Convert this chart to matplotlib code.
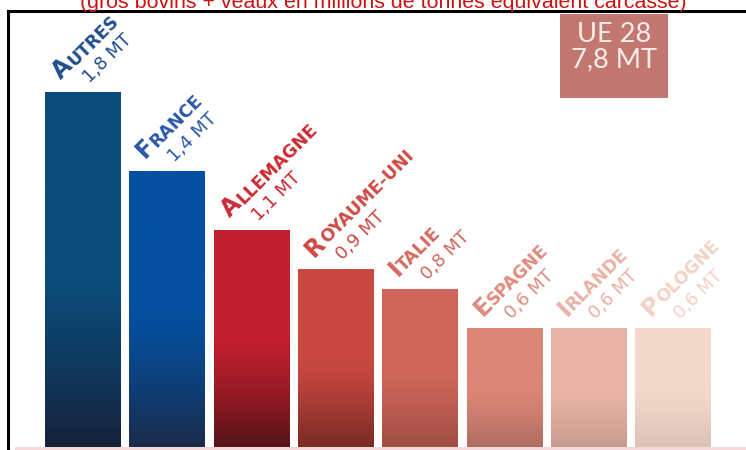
import numpy as np
import matplotlib
matplotlib.use('Agg')
import matplotlib.pyplot as plt
from matplotlib.colors import to_rgb
from matplotlib.lines import Line2D
from matplotlib.patches import Rectangle
from matplotlib.textpath import TextPath
from matplotlib.font_manager import FontProperties

# production de viande bovine, UE 28
pays = ['AUTRES', 'FRANCE', 'ALLEMAGNE', 'ROYAUME-UNI', 'ITALIE', 'ESPAGNE', 'IRLANDE', 'POLOGNE']
valeurs = [1.8, 1.4, 1.1, 0.9, 0.8, 0.6, 0.6, 0.6]

couleurs = ['#0b4d7b', '#0450a1', '#c11f2e', '#c94840', '#d0665a', '#dc8676', '#e8b4a5', '#f3d8cb']
couleurs_bas = ['#16203a', '#1a2b4a', '#551318', '#7a2a25', '#a04e44', '#b06c62', '#c89a8e', '#dcc2b7']
couleurs_txt = ['#1f4e8c', '#2a58a8', '#cc2a33', '#cf4a44', '#d4685d', '#df8b7e', '#e9b2a5', '#f1d2c7']

sous_titre = "(gros bovins + veaux en millions de tonnes équivalent carcasse)"

W, H = 746, 450
fig = plt.figure(figsize=(W / 100, H / 100), dpi=100)
fig.patch.set_facecolor('white')

ax = fig.add_axes([8 / W, 3 / H, 738 / W, 435 / H])
ax.set_axis_off()

x = np.arange(len(pays))
barres = ax.bar(x, valeurs, width=0.89, color=couleurs, linewidth=0, zorder=2)

# degrade vers le bas de chaque barre
n = 200
f = np.linspace(0, 1, n)
t = np.clip((0.5 - f) / 0.5, 0, 1) ** 1.3
for b, c1, c2 in zip(barres, couleurs, couleurs_bas):
    c1 = np.array(to_rgb(c1))
    c2 = np.array(to_rgb(c2))
    img = c1[None, :] * (1 - t[:, None]) + c2[None, :] * t[:, None]
    x0, y0 = b.get_x(), b.get_y()
    ax.imshow(img[:, None, :], extent=[x0, x0 + b.get_width(), y0, y0 + b.get_height()],
              origin='lower', aspect='auto', zorder=3, interpolation='bilinear')

ax.set_xlim(-0.884, -0.884 + 738 / 84.3)
ax.set_ylim(0, 435 / 197)

# etiquettes inclinees : premiere lettre plus grande, puis valeur
fs_grand, fs_petit, fs_val = 17, 12.5, 13
fp_grand = FontProperties(family='DejaVu Sans', weight='bold', size=fs_grand)
px = 0.72
c45 = np.cos(np.radians(45))
for b, nom, v, col in zip(barres, pays, valeurs, couleurs_txt):
    xy = (b.get_x(), b.get_height())
    nx, ny = 16 * px, 12 * px
    ax.annotate(nom[0], xy=xy, xytext=(nx, ny), textcoords='offset points',
                rotation=45, rotation_mode='anchor', ha='left', va='baseline',
                fontsize=fs_grand, fontweight='bold', color=col, family='DejaVu Sans',
                annotation_clip=False, zorder=5)
    w = TextPath((0, 0), nom[0], prop=fp_grand).get_extents().x1 + 0.8
    ax.annotate(nom[1:], xy=xy, xytext=(nx + w * c45, ny + w * c45), textcoords='offset points',
                rotation=45, rotation_mode='anchor', ha='left', va='baseline',
                fontsize=fs_petit, fontweight='bold', color=col, family='DejaVu Sans',
                annotation_clip=False, zorder=5)
    txt = f"{v:.1f}".replace('.', ',') + " MT"
    ax.annotate(txt, xy=xy, xytext=(45 * px, 9 * px), textcoords='offset points',
                rotation=45, rotation_mode='anchor', ha='left', va='baseline',
                fontsize=fs_val, color=col, family='DejaVu Sans',
                annotation_clip=False, zorder=5)

# cadre
fig.add_artist(Line2D([8 / W, 1], [1 - 11 / H] * 2, lw=2.2, color='black'))
fig.add_artist(Line2D([8 / W] * 2, [0, 1 - 11 / H], lw=2.2, color='black'))
fig.add_artist(Rectangle((15 / W, 0), 1, 3.5 / H, color='#f3d9d9', lw=0, zorder=1))

# total UE
total = sum(valeurs)
fig.add_artist(Rectangle((560 / W, 1 - 98 / H), 108 / W, 84 / H, color='#c27871', lw=0))
fig.text(614 / W, 1 - 35 / H, "UE 28", ha='center', va='center', fontsize=19.5,
         color='#fbeeea', family='Lato')
fig.text(614 / W, 1 - 60 / H, f"{total:.1f}".replace('.', ',') + " MT", ha='center', va='center',
         fontsize=19.5, color='#fbeeea', family='Lato')

fig.text(383 / W, 1 - 8 / H, sous_titre, ha='center', va='baseline', fontsize=15.4,
         color='#d01010', family='Liberation Sans')

fig.savefig('out.png', dpi=100)
